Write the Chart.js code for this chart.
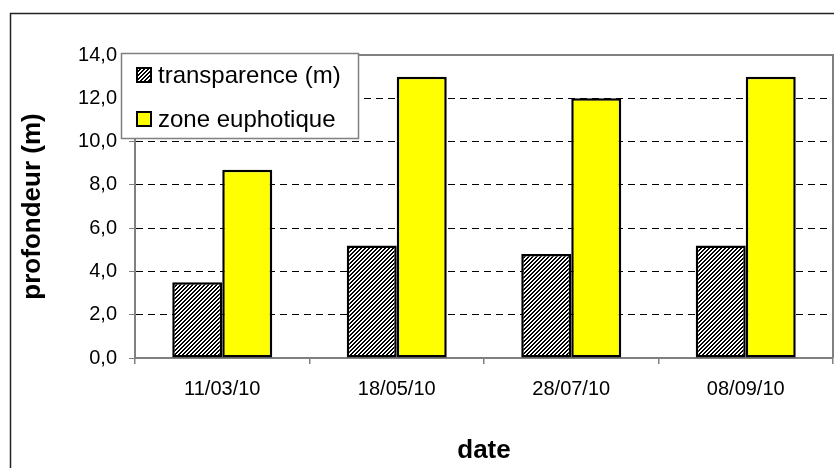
<!DOCTYPE html>
<html>
<head>
<meta charset="utf-8">
<script src="https://cdn.jsdelivr.net/npm/chart.js@4"></script>
<style>
  body { margin: 0; background: #fff; }
  #wrap { width: 834px; height: 468px; }
</style>
</head>
<body>
<div id="wrap"><canvas id="depthChart" width="834" height="468"></canvas></div>
<script>
// data
const dates = ["11/03/10", "18/05/10", "28/07/10", "08/09/10"];
const transparence = [3.5, 5.2, 4.8, 5.2];
const zoneEuphotique = [8.7, 13.0, 12.0, 13.0];
const seriesNames = ["transparence (m)", "zone euphotique"];
const yTicks = [0, 2, 4, 6, 8, 10, 12, 14];

// crisp diagonal hatch for the first series
function makeHatch() {
    const s = 4;
    const c = document.createElement("canvas");
    c.width = s; c.height = s;
    const g = c.getContext("2d");
    g.fillStyle = "#fff";
    g.fillRect(0, 0, s, s);
    g.fillStyle = "#000";
    for (let px = 0; px < s; px++) {
        for (let py = 0; py < s; py++) {
            if ((px + py) % 4 < 2) g.fillRect(px, py, 1, 1);
        }
    }
    return g.createPattern(c, "repeat");
}
const hatch = makeHatch();

// outer frame + plot area frame
const framePlugin = {
    id: "frames",
    beforeDraw(chart) {
        const ctx = chart.ctx;
        ctx.save();
        ctx.fillStyle = "#fff";
        ctx.fillRect(0, 0, chart.width, chart.height);
        ctx.strokeStyle = "#222";
        ctx.lineWidth = 1.5;
        ctx.strokeRect(10.5, 13.5, 1000, 1000);
        ctx.restore();
    },
    afterDatasetsDraw(chart) {
        const a = chart.chartArea;
        const ctx = chart.ctx;
        ctx.save();
        ctx.strokeStyle = "#808080";
        ctx.lineWidth = 2;
        ctx.beginPath();
        ctx.moveTo(a.left, a.top);
        ctx.lineTo(a.right, a.top);
        ctx.lineTo(a.right, a.bottom);
        ctx.stroke();
        ctx.restore();
    }
};

// legend box sitting on top of the plot
const boxLegend = {
    id: "boxLegend",
    afterDraw(chart) {
        const ctx = chart.ctx;
        const x = 121, y = 53, w = 237, h = 85;
        ctx.save();
        ctx.fillStyle = "#fff";
        ctx.fillRect(x, y, w, h);
        ctx.strokeStyle = "#808080";
        ctx.lineWidth = 1.5;
        ctx.strokeRect(x + 0.5, y + 0.5, w, h);
        ctx.font = "24px 'Liberation Sans', Arial, sans-serif";
        ctx.textBaseline = "middle";
        chart.data.datasets.forEach((ds, i) => {
            const cy = 75 + i * 44;
            ctx.fillStyle = ds.backgroundColor;
            ctx.fillRect(137, cy - 7, 14, 14);
            ctx.strokeStyle = "#000";
            ctx.lineWidth = 2;
            ctx.strokeRect(137, cy - 7, 14, 14);
            ctx.fillStyle = "#000";
            ctx.fillText(ds.label, 158, cy + 1);
        });
        ctx.restore();
    }
};

const ctx = document.getElementById("depthChart").getContext("2d");

new Chart(ctx, {
    type: "bar",
    data: {
        labels: dates,
        datasets: [
            {
                label: seriesNames[0],
                data: transparence,
                backgroundColor: hatch,
                borderColor: "#000",
                borderWidth: 2.5,
                borderSkipped: false
            },
            {
                label: seriesNames[1],
                data: zoneEuphotique,
                backgroundColor: "#ffff00",
                borderColor: "#000",
                borderWidth: 2.5,
                borderSkipped: false
            }
        ]
    },
    options: {
        responsive: false,
        animation: false,
        devicePixelRatio: 1,
        layout: { padding: { top: 55, right: 1, left: 0, bottom: 0 } },
        datasets: { bar: { categoryPercentage: 0.573, barPercentage: 1 } },
        plugins: { legend: { display: false }, tooltip: { enabled: false } },
        scales: {
            x: {
                afterFit(scale) { scale.height = 110; },
                grid: { drawOnChartArea: false, color: "#808080", tickLength: 6, lineWidth: 1.5 },
                border: { color: "#808080", width: 2 },
                ticks: {
                    color: "#000",
                    padding: 13,
                    font: { family: "'Liberation Sans', Arial, sans-serif", size: 20 }
                },
                title: {
                    display: true,
                    text: "date",
                    color: "#000",
                    padding: { top: 0, bottom: 2 },
                    font: { family: "'Liberation Sans', Arial, sans-serif", size: 26, weight: "bold" }
                }
            },
            y: {
                min: 0,
                max: 14,
                afterFit(scale) { scale.width = 135; },
                afterBuildTicks(scale) { scale.ticks = yTicks.map(v => ({ value: v })); },
                grid: {
                    color: c => (c.tick.value === 0 || c.tick.value === 14) ? "rgba(0,0,0,0)" : "#000",
                    lineWidth: 1,
                    tickColor: "#808080",
                    tickLength: 6,
                    tickBorderDash: []
                },
                border: { color: "#808080", width: 2, dash: [7, 5] },
                ticks: {
                    color: "#000",
                    padding: 12,
                    font: { family: "'Liberation Sans', Arial, sans-serif", size: 20 },
                    callback: v => v.toFixed(1).replace(".", ",")
                },
                title: {
                    display: true,
                    text: "profondeur (m)",
                    color: "#000",
                    padding: { top: 17, bottom: 0 },
                    font: { family: "'Liberation Sans', Arial, sans-serif", size: 26, weight: "bold" }
                }
            }
        }
    },
    plugins: [framePlugin, boxLegend]
});
</script>
</body>
</html>
